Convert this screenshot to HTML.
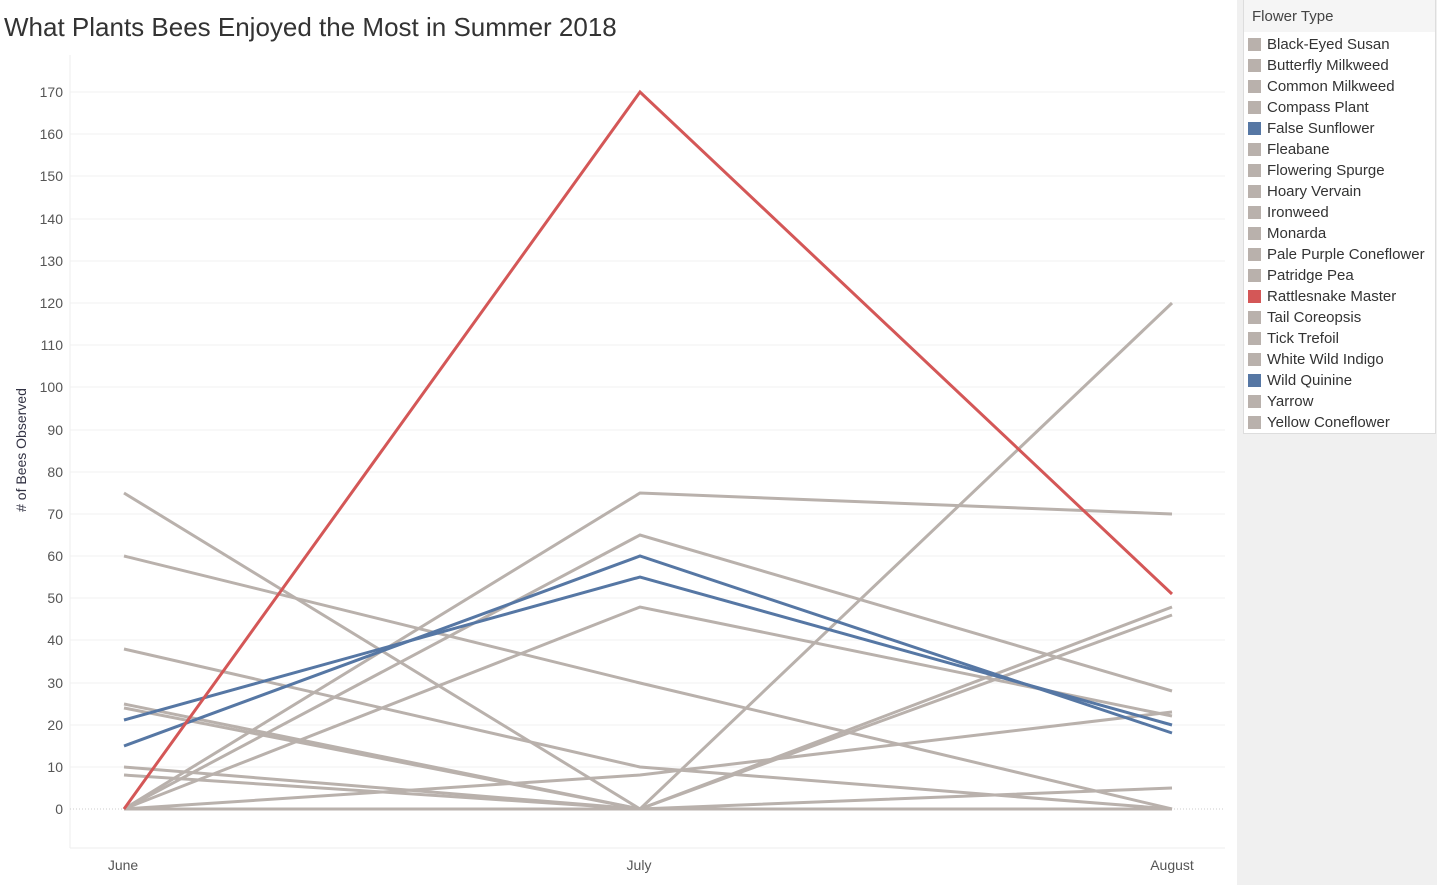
<!DOCTYPE html>
<html><head><meta charset="utf-8"><style>
body{margin:0;width:1437px;height:885px;background:#fff;font-family:"Liberation Sans",sans-serif;position:relative;overflow:hidden}
.title{position:absolute;left:4px;top:12px;font-size:26px;color:#333}
.side{position:absolute;left:1237px;top:0;width:200px;height:885px;background:#f0f0f0}
.leg{position:absolute;left:1243px;top:0;width:193px;height:434px;background:#fff;border:1px solid #ddd;border-top:none;box-sizing:border-box}
.lh{background:#f5f5f5;height:32px;font-size:15px;color:#444;padding:8px 0 0 8px;box-sizing:border-box}
.li{height:21px;font-size:15px;color:#333;position:relative;padding-left:23px;line-height:21px}
.li span{position:absolute;left:4px;top:4px;width:13px;height:13px;background:#b9b1ac}
</style></head><body>
<div class="title">What Plants Bees Enjoyed the Most in Summer 2018</div>
<svg width="1237" height="885" style="position:absolute;left:0;top:0" font-family="Liberation Sans, sans-serif">
<line x1="70" y1="55" x2="70" y2="848" stroke="#eee"/>
<line x1="70" y1="848" x2="1225" y2="848" stroke="#eee"/>
<g stroke="#f0f0f0">
<line x1="70" x2="1225" y1="92" y2="92"/><line x1="70" x2="1225" y1="134" y2="134"/><line x1="70" x2="1225" y1="176" y2="176"/><line x1="70" x2="1225" y1="219" y2="219"/><line x1="70" x2="1225" y1="261" y2="261"/><line x1="70" x2="1225" y1="303" y2="303"/><line x1="70" x2="1225" y1="345" y2="345"/><line x1="70" x2="1225" y1="387" y2="387"/><line x1="70" x2="1225" y1="430" y2="430"/><line x1="70" x2="1225" y1="472" y2="472"/><line x1="70" x2="1225" y1="514" y2="514"/><line x1="70" x2="1225" y1="556" y2="556"/><line x1="70" x2="1225" y1="598" y2="598"/><line x1="70" x2="1225" y1="640" y2="640"/><line x1="70" x2="1225" y1="683" y2="683"/><line x1="70" x2="1225" y1="725" y2="725"/><line x1="70" x2="1225" y1="767" y2="767"/>
</g>
<line x1="70" x2="1225" y1="809" y2="809" stroke="#ccc" stroke-dasharray="1,2"/>
<g font-size="14" fill="#555" text-anchor="end">
<text x="63" y="97">170</text><text x="63" y="139">160</text><text x="63" y="181">150</text><text x="63" y="224">140</text><text x="63" y="266">130</text><text x="63" y="308">120</text><text x="63" y="350">110</text><text x="63" y="392">100</text><text x="63" y="435">90</text><text x="63" y="477">80</text><text x="63" y="519">70</text><text x="63" y="561">60</text><text x="63" y="603">50</text><text x="63" y="645">40</text><text x="63" y="688">30</text><text x="63" y="730">20</text><text x="63" y="772">10</text><text x="63" y="814">0</text>
</g>
<text transform="translate(26,450) rotate(-90)" font-size="14" fill="#334" text-anchor="middle"># of Bees Observed</text>
<g font-size="14" fill="#555" text-anchor="middle"><text x="123" y="870">June</text><text x="639" y="870">July</text><text x="1172" y="870">August</text></g>
<g fill="none" stroke="#b9b1ac" stroke-width="3">
<polyline points="124,493 640,809 1172,809"/>
<polyline points="124,556 640,683 1172,809"/>
<polyline points="124,649 640,767 1172,809"/>
<polyline points="124,767 640,809 1172,809"/>
<polyline points="124,775 640,809 1172,809"/>
<polyline points="124,704 640,809 1172,809"/>
<polyline points="124,708 640,809 1172,809"/>
<polyline points="124,809 640,775 1172,712"/>
<polyline points="124,809 640,493 1172,514"/>
<polyline points="124,809 640,535 1172,691"/>
<polyline points="124,809 640,607 1172,716"/>
<polyline points="124,809 640,809 1172,303"/>
<polyline points="124,809 640,809 1172,607"/>
<polyline points="124,809 640,809 1172,615"/>
<polyline points="124,809 640,809 1172,788"/>
<polyline points="124,809 640,809 1172,809"/>
</g>
<g fill="none" stroke="#5677a4" stroke-width="3">
<polyline points="124,720 640,577 1172,725"/>
<polyline points="124,746 640,556 1172,733"/>
</g>
<polyline fill="none" stroke="#d45757" stroke-width="3" points="124,809 640,92 1172,594"/>
</svg>
<div class="side"></div>
<div class="leg"><div class="lh">Flower Type</div>
<div style="height:2px"></div>
<div class="li"><span></span>Black-Eyed Susan</div>
<div class="li"><span></span>Butterfly Milkweed</div>
<div class="li"><span></span>Common Milkweed</div>
<div class="li"><span></span>Compass Plant</div>
<div class="li"><span style="background:#5677a4"></span>False Sunflower</div>
<div class="li"><span></span>Fleabane</div>
<div class="li"><span></span>Flowering Spurge</div>
<div class="li"><span></span>Hoary Vervain</div>
<div class="li"><span></span>Ironweed</div>
<div class="li"><span></span>Monarda</div>
<div class="li"><span></span>Pale Purple Coneflower</div>
<div class="li"><span></span>Patridge Pea</div>
<div class="li"><span style="background:#d45757"></span>Rattlesnake Master</div>
<div class="li"><span></span>Tail Coreopsis</div>
<div class="li"><span></span>Tick Trefoil</div>
<div class="li"><span></span>White Wild Indigo</div>
<div class="li"><span style="background:#5677a4"></span>Wild Quinine</div>
<div class="li"><span></span>Yarrow</div>
<div class="li"><span></span>Yellow Coneflower</div>
</div>
</body></html>
